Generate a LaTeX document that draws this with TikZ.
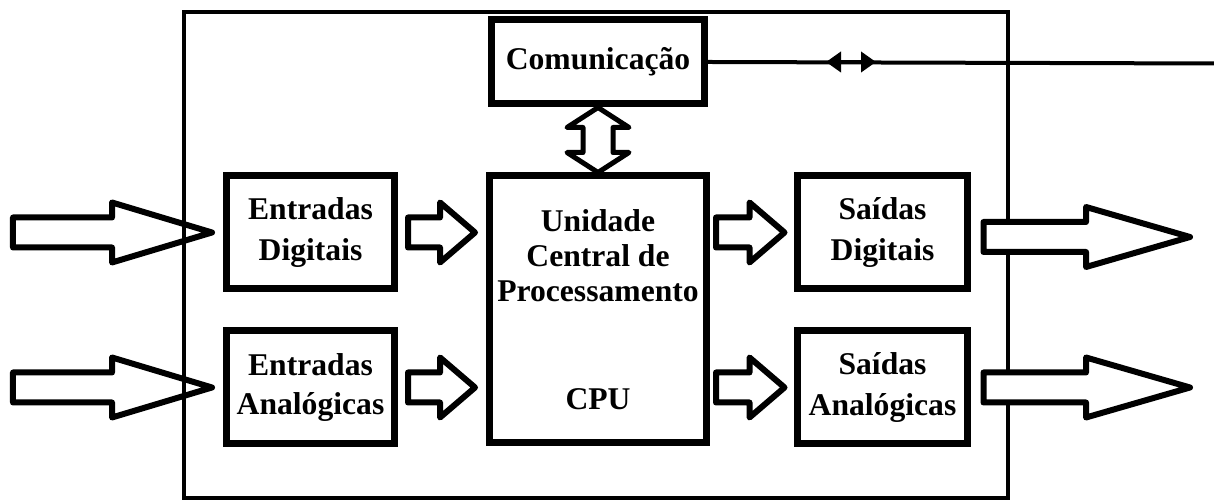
\documentclass[tikz,border=0pt]{standalone}
\usepackage{fontspec}
\setmainfont{Liberation Serif}
\usetikzlibrary{arrows.meta, positioning, calc}

% hollow block arrow pointing right: [opts]{tail}{tip}{head length}
\newcommand{\fatarrow}[4][]{%
  \draw[fat, #1] let \p1=(#2), \p2=(#3) in
    (\x1,\y2+0.3cm) -- (\x2-#4,\y2+0.3cm) -- (\x2-#4,\y2+0.6cm) -- (\p2)
    -- (\x2-#4,\y2-0.6cm) -- (\x2-#4,\y2-0.3cm) -- (\x1,\y2-0.3cm) -- cycle;}

\begin{document}
\begin{tikzpicture}[
  font=\fontsize{18pt}{20pt}\selectfont\bfseries,
  blk/.style={draw, line width=0.14cm, align=center, inner sep=0pt,
              minimum width=3.36cm, minimum height=2.26cm},
  fat/.style={draw, line width=0.12cm, line join=round},
  bus/.style={line width=0.08cm},
]
\useasboundingbox (0,0) rectangle (24.28,10);
%% outer frame
\draw[line width=0.08cm] (3.68,0.04) rectangle (20.16,9.76);

\node[blk, minimum width=4.34cm, minimum height=5.34cm] (cpu) at (11.96,3.81)
  {Unidade\\Central de\\Processamento\\[1.46cm]CPU};
\node[blk, minimum width=4.26cm, minimum height=1.68cm, above=1.3cm of cpu] (comm)
  {Comunicação};
\node[blk, left=1.76cm of cpu.north west, anchor=north east] (ed)
  {Entradas\\[0.12cm]Digitais};
\node[blk, below=0.7cm of ed] (ea) {Entradas\\[0.06cm]Analógicas};
\node[blk, minimum width=3.4cm, right=1.68cm of cpu.north east, anchor=north west] (sd)
  {Saídas\\[0.12cm]Digitais};
\node[blk, minimum width=3.4cm, below=0.7cm of sd] (sa) {Saídas\\[0.12cm]Analógicas};

%% free ends
\coordinate (in1) at (0.26,5.36);
\coordinate (in2) at (0.26,2.2);
\coordinate (out1) at (23.8,5.26);
\coordinate (out2) at (23.8,2.25);
\coordinate (busend) at (24.28,8.73);
\path (comm.east) ++(2.36,0) coordinate (bl) ++(1,0) coordinate (br);

%% inputs
\fatarrow{in1}{$(ed.west)+(-0.22,0)$}{2cm}
\fatarrow{in2}{$(ea.west)+(-0.22,0)$}{2cm}
\fatarrow{$(ed.east)+(0.2,0)$}{$(ed.east -| cpu.west)+(-0.22,0)$}{0.7cm}
\fatarrow{$(ea.east)+(0.2,0)$}{$(ea.east -| cpu.west)+(-0.22,0)$}{0.7cm}
%% outputs
\fatarrow{$(cpu.east |- sd.west)+(0.12,0)$}{$(sd.west)+(-0.19,0)$}{0.7cm}
\fatarrow{$(cpu.east |- sa.west)+(0.12,0)$}{$(sa.west)+(-0.19,0)$}{0.7cm}
\fatarrow[fill=white]{$(sd.east)+(0.25,0)$}{out1}{2.08cm}
\fatarrow[fill=white]{$(sa.east)+(0.25,0)$}{out2}{2.08cm}

%% cpu <-> communication
\draw[fat, line width=0.1cm] let \p1=(comm.south), \p2=(cpu.north) in
  (\p1) -- (\x1+0.62cm,\y1-0.4cm) -- (\x1+0.3cm,\y1-0.4cm) -- (\x1+0.3cm,\y2+0.4cm)
  -- (\x1+0.62cm,\y2+0.4cm) -- (\x1,\y2) -- (\x1-0.62cm,\y2+0.4cm) -- (\x1-0.3cm,\y2+0.4cm)
  -- (\x1-0.3cm,\y1-0.4cm) -- (\x1-0.62cm,\y1-0.4cm) -- cycle;

%% network line
\draw[bus] (comm.east) -- (busend);
\draw[bus, {Triangle[length=0.3cm,width=0.4cm]}-{Triangle[length=0.3cm,width=0.4cm]}]
  (bl) -- (br);
\end{tikzpicture}
\end{document}
